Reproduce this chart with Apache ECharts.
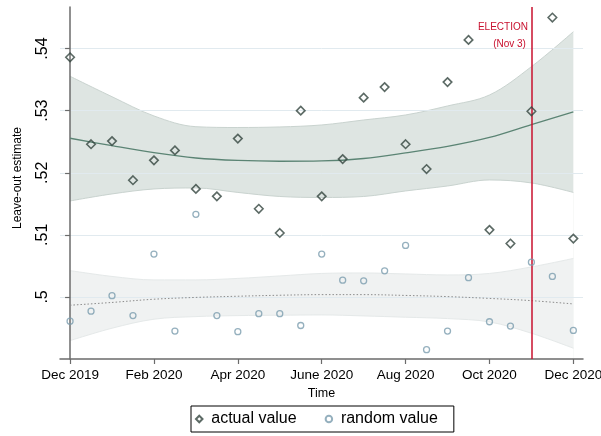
<!DOCTYPE html>
<html>
<head>
<meta charset="utf-8">
<script src="https://cdn.jsdelivr.net/npm/echarts@6/dist/echarts.min.js"></script>
<style>
html,body{margin:0;padding:0;background:#fff;}
#chart{width:601px;height:436px;}
</style>
</head>
<body>
<div id="chart"></div>
<script>
// ---- data (months since Dec 2019, half-month steps) ----
const periods = [0,0.5,1,1.5,2,2.5,3,3.5,4,4.5,5,5.5,6,6.5,7,7.5,8,8.5,9,9.5,10,10.5,11,11.5,12];
const actualValue = [0.5386,0.5246,0.5251,0.5188,0.5220,0.5236,0.5174,0.5162,0.5255,0.5142,0.5103,0.5300,0.5162,0.5222,0.5321,0.5338,0.5246,0.5206,0.5346,0.5414,0.5108,0.5086,0.5299,0.5450,0.5094];
const randomValue = [0.4961,0.4977,0.5002,0.4970,0.5069,0.4945,0.5133,0.4970,0.4944,0.4973,0.4973,0.4954,0.5069,0.5027,0.5026,0.5042,0.5083,0.4915,0.4945,0.5031,0.4960,0.4953,0.5056,0.5033,0.4946];

const fitPeriods = [0,1,2,3,4,5,6,7,8,9,10,11,12];
const actualFit   = [0.52556,0.52436,0.52324,0.52238,0.52198,0.52185,0.52190,0.52230,0.52319,0.52424,0.52568,0.52775,0.52979];
const actualUpper = [0.53554,0.53225,0.52915,0.52742,0.52729,0.52738,0.52770,0.52850,0.52931,0.53076,0.53253,0.53709,0.54272];
const actualLower = [0.51546,0.51659,0.51739,0.51755,0.51683,0.51618,0.51602,0.51618,0.51707,0.51787,0.51884,0.51836,0.51683];
const randomFit   = [0.49866,0.49911,0.49963,0.49992,0.50011,0.50027,0.50037,0.50037,0.50024,0.50005,0.49976,0.49940,0.49887];
const randomUpper = [0.50424,0.50330,0.50274,0.50274,0.50298,0.50338,0.50378,0.50386,0.50370,0.50354,0.50378,0.50483,0.50620];
const randomLower = [0.49296,0.49496,0.49641,0.49683,0.49699,0.49705,0.49710,0.49694,0.49673,0.49651,0.49597,0.49415,0.49174];

const xTickValues = [0,2,4,6,8,10,12];
const xTickLabels = ['Dec 2019','Feb 2020','Apr 2020','June 2020','Aug 2020','Oct 2020','Dec 2020'];
const yTickValues = [0.50,0.51,0.52,0.53,0.54];
const yTickLabels = ['.5','.51','.52','.53','.54'];
const electionPeriod = 11;
const electionLabels = ['ELECTION','(Nov 3)'];

const X_MIN = -0.24, X_MAX = 12.23, Y_MIN = 0.49, Y_MAX = 0.5467;
const FONT = "'Liberation Sans', Arial, Helvetica, sans-serif";

const pair = (xs, ys) => xs.map((x, i) => [x, ys[i]]);

function bandSeries(values, fill, edge) {
  return {
    type: 'line', data: pair(fitPeriods, values), smooth: 0.35, symbol: 'none', z: 1,
    lineStyle: {color: edge, width: 1}, areaStyle: {color: fill, opacity: 1, origin: 'start'},
    silent: true
  };
}

const chart = echarts.init(document.getElementById('chart'), null, {renderer: 'canvas'});
chart.setOption({
  animation: false,
  backgroundColor: '#fff',
  textStyle: {fontFamily: FONT},
  grid: {left: 60, right: 18, top: 7, bottom: 77, containLabel: false, outerBoundsMode: 'none'},
  xAxis: {
    type: 'value', min: X_MIN, max: X_MAX, z: 2,
    name: 'Time', nameLocation: 'middle', nameGap: 22,
    nameTextStyle: {fontSize: 12.5, color: '#000', fontFamily: FONT},
    axisLine: {show: true, onZero: false, lineStyle: {color: '#6b6b6b', width: 1.5}},
    axisTick: {show: true, length: 5, customValues: xTickValues, lineStyle: {color: '#6b6b6b', width: 1.2}},
    axisLabel: {customValues: xTickValues, margin: 9, fontSize: 13.5, color: '#000', fontFamily: FONT,
      formatter: v => xTickLabels[xTickValues.indexOf(v)] || ''},
    splitLine: {show: false}
  },
  yAxis: {
    type: 'value', min: Y_MIN, max: Y_MAX, z: 2,
    name: 'Leave-out estimate', nameLocation: 'middle', nameGap: 36,
    nameTextStyle: {fontSize: 12, color: '#000', fontFamily: FONT, padding: [0, 0, 0, 10]},
    axisLine: {show: true, lineStyle: {color: '#6b6b6b', width: 1.5}},
    axisTick: {show: true, length: 5, customValues: yTickValues, lineStyle: {color: '#6b6b6b', width: 1.2}},
    axisLabel: {customValues: yTickValues, rotate: 90, margin: 9, fontSize: 16, color: '#000', fontFamily: FONT,
      formatter: v => { const i = yTickValues.findIndex(t => Math.abs(t - v) < 1e-6); return i >= 0 ? yTickLabels[i] : ''; }},
    splitLine: {show: true, lineStyle: {color: '#e1eaef', width: 1}}
  },
  legend: {
    data: ['actual value', 'random value'],
    left: 191, top: 406,
    padding: [5, 16, 5, 4],
    itemGap: 28, itemWidth: 14, itemHeight: 6.5,
    borderColor: '#000', borderWidth: 1,
    textStyle: {fontSize: 16, color: '#000', fontFamily: FONT}
  },
  series: [
    bandSeries(actualUpper, '#dee5e2', '#c9d3cf'),
    bandSeries(actualLower, '#ffffff', '#c9d3cf'),
    bandSeries(randomUpper, '#f0f2f2', '#e5e9e9'),
    bandSeries(randomLower, '#ffffff', '#e5e9e9'),
    {
      type: 'line', data: pair(fitPeriods, actualFit), smooth: 0.35, symbol: 'none', z: 3, silent: true,
      lineStyle: {color: '#5b8474', width: 1.3}
    },
    {
      type: 'line', data: pair(fitPeriods, randomFit), smooth: 0.35, symbol: 'none', z: 3, silent: true,
      lineStyle: {color: '#8c8c8c', width: 1, type: [1.5, 2]},
      markLine: {
        silent: true, symbol: 'none', z: 4,
        label: {show: false},
        lineStyle: {color: '#c8102e', width: 1.5, type: 'solid'},
        data: [{xAxis: electionPeriod}]
      }
    },
    {
      name: 'actual value', type: 'scatter', data: pair(periods, actualValue), z: 5,
      symbol: 'path://M0,-1L1,0L0,1L-1,0Z', symbolSize: 8.5,
      itemStyle: {color: 'rgba(255,255,255,0)', borderColor: '#33453e', borderWidth: 1.6}
    },
    {
      name: 'random value', type: 'scatter', data: pair(periods, randomValue), z: 5,
      symbol: 'circle', symbolSize: 6,
      itemStyle: {color: 'rgba(255,255,255,0)', borderColor: '#7a9cae', borderWidth: 1.3}
    }
  ]
});

const elecTop = chart.convertToPixel({gridIndex: 0}, [electionPeriod, Y_MAX]);
chart.setOption({
  graphic: [
    {type: 'text', x: elecTop[0] - 3.5, y: elecTop[1] + 20, z: 10,
     style: {text: electionLabels[0], fill: '#c8102e', font: '10px ' + FONT, align: 'right', verticalAlign: 'middle'}},
    {type: 'text', x: elecTop[0] - 5.5, y: elecTop[1] + 37.5, z: 10,
     style: {text: electionLabels[1], fill: '#c8102e', font: '10px ' + FONT, align: 'right', verticalAlign: 'middle'}}
  ]
});
</script>
</body>
</html>
